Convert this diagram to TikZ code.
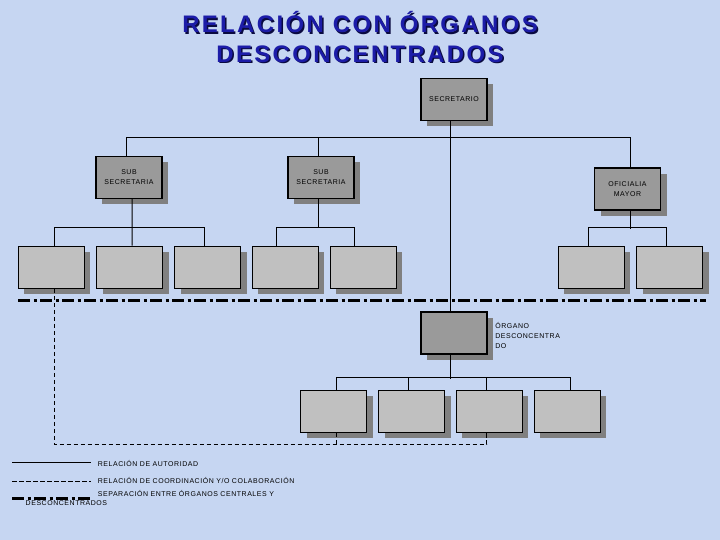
\documentclass[tikz,border=0pt]{standalone}
\usepackage{fontspec}
\setmainfont{Liberation Sans}
\newfontfamily\titlefont[LetterSpace=10]{Liberation Sans}
\newfontfamily\boxfont[LetterSpace=8]{Liberation Sans}
\usetikzlibrary{positioning}
\usetikzlibrary{shadows}
\definecolor{bgColor}{HTML}{C6D6F2}
\definecolor{titleColor}{HTML}{1C1CA8}
\definecolor{titleShadowColor}{HTML}{0A0A40}
\definecolor{headColor}{HTML}{9A9A9A}
\definecolor{unitColor}{HTML}{C0C0C0}
\definecolor{shadowColor}{HTML}{808080}
\def\textTitle{RELACIÓN CON ÓRGANOS\\DESCONCENTRADOS}
\def\textSec{SECRETARIO}
\def\textSub{SUB\\SECRETARIA}
\def\textOfi{OFICIALIA\\MAYOR}
\def\textOrg{ÓRGANO\\DESCONCENTRA\\DO}
\def\textLegA{RELACIÓN DE AUTORIDAD}
\def\textLegB{RELACIÓN DE COORDINACIÓN Y/O COLABORACIÓN}
\def\textLegC{SEPARACIÓN ENTRE ÓRGANOS CENTRALES Y}
\def\textLegD{DESCONCENTRADOS}
\tikzset{
  unitbox/.style={draw=black, line width=1.2bp, fill=unitColor,
    minimum width=66bp, minimum height=42bp, inner sep=0pt,
    drop shadow={shadow xshift=6bp, shadow yshift=-6bp, fill=shadowColor, opacity=1}},
  headbox/.style={unitbox, fill=headColor, align=center,
    font=\boxfont\fontsize{7}{10}\selectfont},
  link/.style={line width=1bp},
  coord/.style={line width=1bp, dash pattern=on 4.5bp off 2.5bp},
  separation/.style={line width=3bp, dash pattern=on 12bp off 3.5bp on 3bp off 3.5bp},
  legendtext/.style={anchor=west, inner sep=0pt, font=\boxfont\fontsize{7}{9}\selectfont},
  titletext/.style={align=center, inner sep=0pt,
    font=\titlefont\bfseries\fontsize{24}{30}\selectfont}
}
\begin{document}
\begin{tikzpicture}[x=1bp,y=-1bp]
\useasboundingbox (0, 0) rectangle (720, 540);
\fill[bgColor] (0, 0) rectangle (720, 540);

% title
\node[titletext, text=titleShadowColor] (titleShadow) at (361.5, 38.5) {\textTitle};
\node[titletext, text=titleColor] (title) at (360, 37) {\textTitle};

% boxes layer
\begin{scope}
\node[headbox] (sec) at (454, 99.5) {\textSec};
\node[headbox] (subA) at (129, 177.5) {\textSub};
\node[headbox] (subB) at (321, 177.5) {\textSub};
\node[headbox] (ofi) at (627.5, 189) {\textOfi};
\node[unitbox] (uA) at (51.3, 267.3) {};
\node[unitbox] (uB) at (129.7, 267.3) {};
\node[unitbox] (uC) at (207.5, 267.3) {};
\node[unitbox] (uD) at (285.3, 267.3) {};
\node[unitbox] (uE) at (363.3, 267.3) {};
\node[unitbox] (uF) at (591.2, 267.3) {};
\node[unitbox] (uG) at (669.5, 267.3) {};
\node[headbox] (org) at (454, 333) {};
\node[anchor=west, align=left, inner sep=1.5bp, right=6bp of org, yshift=-2.7bp,
  font=\boxfont\fontsize{7}{10.3}\selectfont] (orgLabel) {\textOrg};
\node[unitbox] (dA) at (333.5, 411.3) {};
\node[unitbox] (dB) at (411.5, 411.3) {};
\node[unitbox] (dC) at (489.3, 411.3) {};
\node[unitbox] (dD) at (567.3, 411.3) {};
\end{scope}

% link layer
\begin{scope}[link]
\draw ([xshift=-3bp]subA.north) -- ++(0, -18) -| ([xshift=2.5bp]ofi.north);
\draw ([xshift=-3bp]subB.north) -- ++(0, -18);
\draw ([xshift=-4bp]sec.south) -- ([xshift=-4bp]org.north);
\draw ([xshift=3bp]subA.south) -- ([xshift=2.5bp]uB.north);
\draw ([xshift=3bp]uA.north) -- ++(0, -18) -| ([xshift=-3bp]uC.north);
\draw ([xshift=-3bp]subB.south) -- ++(0, 29);
\draw ([xshift=-9bp]uD.north) -- ++(0, -18) -| ([xshift=-9bp]uE.north);
\draw ([xshift=2.5bp]ofi.south) -- ++(0, 18);
\draw ([xshift=-3bp]uF.north) -- ++(0, -18) -| ([xshift=-3bp]uG.north);
\draw ([xshift=-4bp]org.south) -- ++(0, 24.6);
\draw ([xshift=3bp]dA.north) -- ++(0, -12.4) -| ([xshift=3bp]dD.north);
\draw ([xshift=-3bp]dB.north) -- ++(0, -12.4);
\draw ([xshift=-2.6bp]dC.north) -- ++(0, -12.4);
\end{scope}

% coordination layer
\begin{scope}
\draw[coord] ([xshift=3bp]uA.south) -- ++(0, 155.7) -| ([xshift=-2.6bp]dC.south);
\draw[coord] ([xshift=3bp]dA.south) -- ++(0, 12);
\end{scope}

% separation line
\coordinate (sepL) at (18, 300);
\coordinate (sepR) at (706, 300);
\draw[separation] (sepL) -- (sepR);

% legend
\begin{scope}
\coordinate (legAL) at (12, 462.3);
\coordinate (legAR) at (90.7, 462.3);
\coordinate (legBL) at (12, 481.3);
\coordinate (legBR) at (90.7, 481.3);
\coordinate (legCL) at (12, 498.5);
\coordinate (legCR) at (90.7, 498.5);
\draw[link] (legAL) -- (legAR);
\draw[coord] (legBL) -- (legBR);
\draw[separation] (legCL) -- (legCR);
\node[legendtext] (legA) at (97.7, 463.8) {\textLegA};
\node[legendtext] (legB) at (97.7, 480.5) {\textLegB};
\node[legendtext] (legC) at (97.7, 493.5) {\textLegC};
\node[legendtext] (legD) at (25.5, 503) {\textLegD};
\end{scope}

\end{tikzpicture}
\end{document}
